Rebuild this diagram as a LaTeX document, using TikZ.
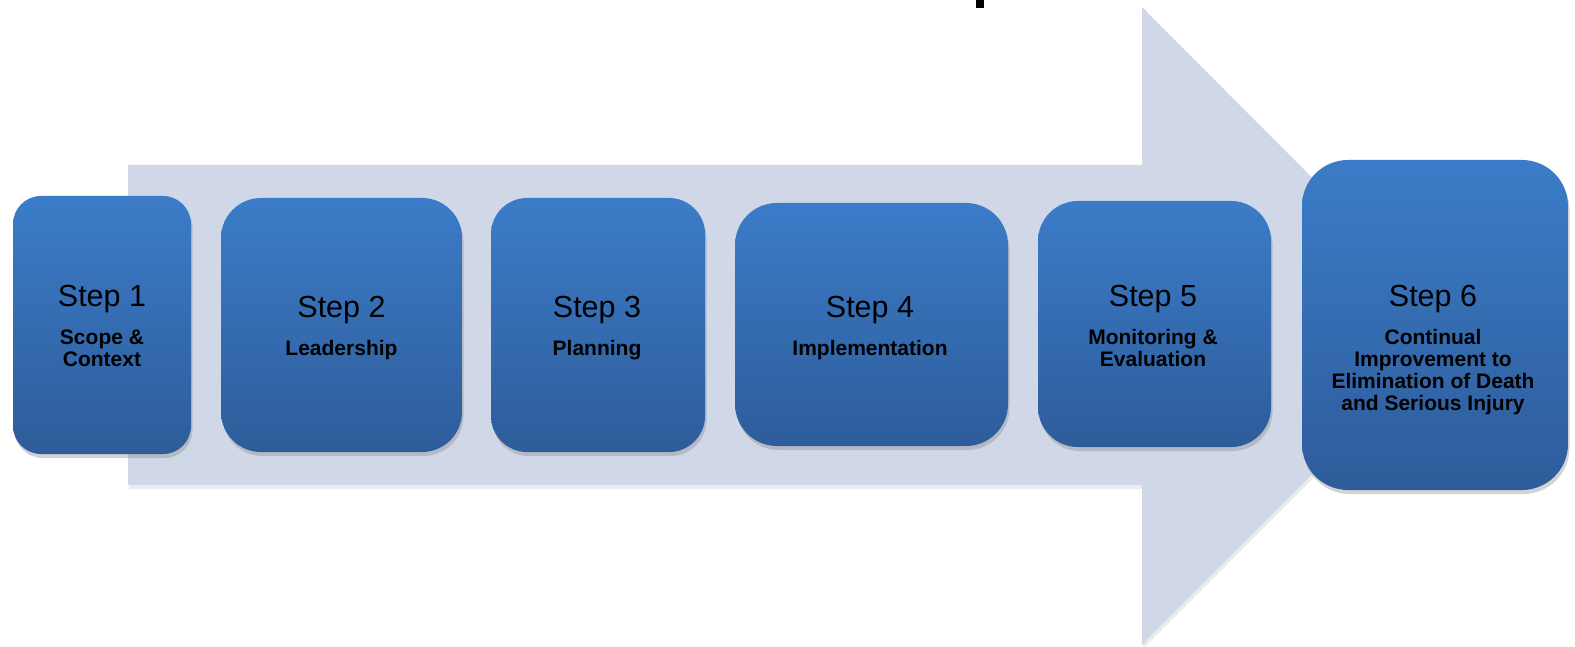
\documentclass[tikz,border=0pt]{standalone}
\usepackage{fontspec}
\setmainfont{Liberation Sans}
\usetikzlibrary{shadows}
\definecolor{arrowfill}{HTML}{D0D8E8}
\definecolor{boxtop}{HTML}{3B7CC8}
\definecolor{boxmid}{HTML}{3670B8}
\definecolor{boxbot}{HTML}{2E5C9A}
\tikzset{
  stepbox/.style={rectangle, draw=none, inner sep=0pt,
    top color=boxtop, middle color=boxmid, bottom color=boxbot,
    drop shadow={shadow xshift=1.5pt, shadow yshift=-4pt, opacity=0.35}},
  steptitle/.style={anchor=base, inner sep=0pt, text=black,
    font=\fontsize{30.5}{30.5}\selectfont},
  stepsub/.style={anchor=base, inner sep=0pt, text=black,
    font=\fontsize{21}{22}\selectfont\bfseries},
}
\begin{document}
\begin{tikzpicture}[x=1pt,y=-1pt]
\useasboundingbox (0,0) rectangle (1575,647);
% big arrow
\fill[arrowfill, drop shadow={shadow xshift=1pt, shadow yshift=-4pt, opacity=0.15}]
  (128,165) -- (1142,165) -- (1142,7) -- (1460,326) -- (1142,645)
  -- (1142,485) -- (128,485) -- cycle;
% cut-off fragment of the title
\fill[black] (976,0) rectangle (984,8);
% boxes
\node[stepbox, minimum width=178pt, minimum height=258pt, rounded corners=28pt] (b1) at (102,325) {};
\node[stepbox, minimum width=241pt, minimum height=254pt, rounded corners=40pt] (b2) at (341.5,325) {};
\node[stepbox, minimum width=214pt, minimum height=254pt, rounded corners=36pt] (b3) at (598,325) {};
\node[stepbox, minimum width=273pt, minimum height=243pt, rounded corners=42pt] (b4) at (871.5,324.5) {};
\node[stepbox, minimum width=233pt, minimum height=246pt, rounded corners=40pt] (b5) at (1154.5,324) {};
\node[stepbox, minimum width=266pt, minimum height=330pt, rounded corners=46pt] (b6) at (1435,325) {};
% texts
\node[steptitle] (t1) at (102,306) {Step 1};
\node[stepsub] (t1a) at (102,344) {Scope \&};
\node[stepsub] (t1b) at (102,366) {Context};
\node[steptitle] (t2) at (341.5,317) {Step 2};
\node[stepsub] (t2a) at (341.5,355) {Leadership};
\node[steptitle] (t3) at (597,317) {Step 3};
\node[stepsub] (t3a) at (597,355) {Planning};
\node[steptitle] (t4) at (870,317) {Step 4};
\node[stepsub] (t4a) at (870,355) {Implementation};
\node[steptitle] (t5) at (1153,306) {Step 5};
\node[stepsub] (t5a) at (1153,344) {Monitoring \&};
\node[stepsub] (t5b) at (1153,366) {Evaluation};
\node[steptitle] (t6) at (1433,306) {Step 6};
\node[stepsub] (t6a) at (1433,344) {Continual};
\node[stepsub] (t6b) at (1433,366) {Improvement to};
\node[stepsub] (t6c) at (1433,388) {Elimination of Death};
\node[stepsub] (t6d) at (1433,410) {and Serious Injury};
\end{tikzpicture}
\end{document}
